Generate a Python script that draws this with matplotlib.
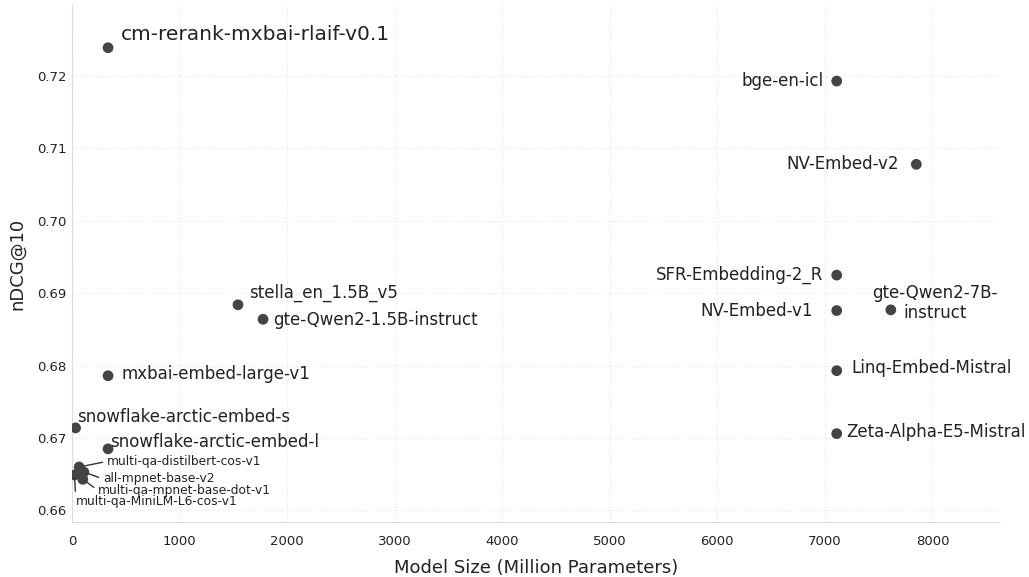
import matplotlib.pyplot as plt

plt.rcParams['font.family'] = ['DejaVu Sans']

# model sizes (million params) and nDCG@10
models = [
    "cm-rerank-mxbai-rlaif-v0.1", "bge-en-icl", "NV-Embed-v2", "SFR-Embedding-2_R",
    "NV-Embed-v1", "gte-Qwen2-7B-\ninstruct", "Linq-Embed-Mistral", "Zeta-Alpha-E5-Mistral",
    "stella_en_1.5B_v5", "gte-Qwen2-1.5B-instruct", "mxbai-embed-large-v1",
    "snowflake-arctic-embed-s", "snowflake-arctic-embed-l",
    "multi-qa-distilbert-cos-v1", "all-mpnet-base-v2", "multi-qa-mpnet-base-dot-v1",
    "multi-qa-MiniLM-L6-cos-v1",
]
sizes = [335, 7110, 7850, 7110, 7110, 7613, 7110, 7110,
         1543, 1776, 335, 33, 335, 66, 110, 100, 23]
ndcg = [0.7239, 0.7193, 0.7078, 0.6925, 0.6876, 0.6877, 0.6793, 0.6706,
        0.6884, 0.6864, 0.6786, 0.6714, 0.6685, 0.6660, 0.6653, 0.6643, 0.6649]

# label offsets in pixels (dx, dy), alignment, font size, leader line anchor
label_style = {
    "cm-rerank-mxbai-rlaif-v0.1": (13, 13, 'left', 14.5, None),
    "bge-en-icl": (-13, 0, 'right', 12, None),
    "NV-Embed-v2": (-17, 0, 'right', 12, None),
    "SFR-Embedding-2_R": (-13, 0, 'right', 12, None),
    "NV-Embed-v1": (-24, 0, 'right', 12, None),
    "gte-Qwen2-7B-\ninstruct": (44, 7, 'center', 12, None),
    "Linq-Embed-Mistral": (15, 3, 'left', 12, None),
    "Zeta-Alpha-E5-Mistral": (10, 2, 'left', 12, None),
    "stella_en_1.5B_v5": (11, 12, 'left', 12, None),
    "gte-Qwen2-1.5B-instruct": (10, -1, 'left', 12, None),
    "mxbai-embed-large-v1": (13, 2, 'left', 12, None),
    "snowflake-arctic-embed-s": (1, 11, 'left', 12, None),
    "snowflake-arctic-embed-l": (2, 7, 'left', 12, None),
    "multi-qa-distilbert-cos-v1": (28, 5, 'left', 8.8, (-0.02, 0.5)),
    "all-mpnet-base-v2": (19, -6, 'left', 8.8, (-0.02, 0.5)),
    "multi-qa-mpnet-base-dot-v1": (15, -11, 'left', 8.8, (-0.01, 0.6)),
    "multi-qa-MiniLM-L6-cos-v1": (1, -27, 'left', 8.8, (0.0, 1.1)),
}

fig = plt.figure(figsize=(10.29, 5.77), dpi=100)
ax = fig.add_axes([0.070, 0.0953, 0.902, 0.8960])

ax.scatter(sizes, ndcg, s=60, color='#444444', zorder=3, edgecolors='none')

for name, x, y in zip(models, sizes, ndcg):
    dx, dy, ha, fs, rel = label_style[name]
    if rel is not None:
        ax.annotate(name, (x, y), xytext=(dx, dy), textcoords='offset pixels',
                    ha=ha, va='center', fontsize=fs, color='#222222',
                    arrowprops=dict(arrowstyle='-', color='#333333', lw=1,
                                    shrinkA=1, shrinkB=2, relpos=rel))
    else:
        ax.annotate(name, (x, y), xytext=(dx, dy), textcoords='offset pixels',
                    ha=ha, va='center', fontsize=fs, color='#222222',
                    linespacing=1.1)

ax.set_xlim(0, 8630)
ax.set_ylim(0.6584, 0.7298)
ax.set_xticks(range(0, 9000, 1000))
ax.set_yticks([0.66, 0.67, 0.68, 0.69, 0.70, 0.71, 0.72])
ax.set_yticklabels(['0.66', '0.67', '0.68', '0.69', '0.70', '0.71', '0.72'])
ax.tick_params(length=0, labelsize=9.5, labelcolor='#222222')
ax.tick_params(axis='x', pad=9)
ax.tick_params(axis='y', pad=4)
ax.grid(True, color='#e6e6e6', linestyle=':', linewidth=0.8)
ax.set_axisbelow(True)

for side in ['top', 'right']:
    ax.spines[side].set_visible(False)
for side in ['left', 'bottom']:
    ax.spines[side].set_color('#dddddd')

ax.set_xlabel("Model Size (Million Parameters)", fontsize=13, color='#222222', labelpad=8)
ax.set_ylabel("nDCG@10", fontsize=13, color='#222222', labelpad=8)

plt.savefig("out.png", dpi=100)
